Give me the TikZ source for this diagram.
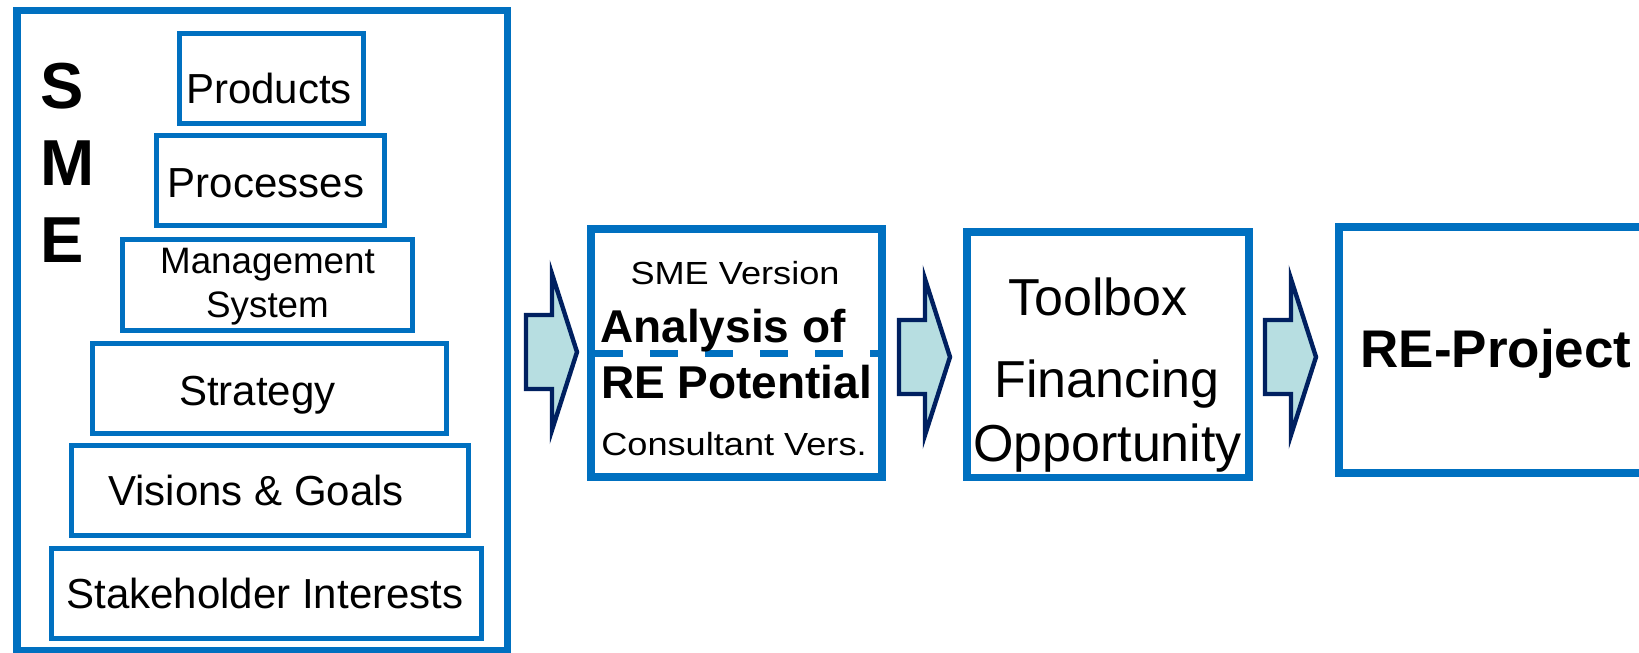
\documentclass[tikz,border=0pt]{standalone}
\usepackage{fontspec}
\setmainfont{Liberation Sans}
\newfontfamily\widesans[FakeStretch=1.13]{Liberation Sans}
\definecolor{boxblue}{HTML}{0070C0}
\definecolor{arrownavy}{HTML}{002060}
\definecolor{arrowfill}{HTML}{B7DEE1}

\begin{document}
\begin{tikzpicture}[x=0.5pt, y=-0.5pt,
  smebox/.style={draw=boxblue, line width=2.5pt},
  stepbox/.style={draw=boxblue, line width=3.8pt},
  lbl/.style={inner sep=0pt, anchor=base, font=\fontsize{21pt}{25pt}\selectfont},
  biglbl/.style={inner sep=0pt, anchor=base, font=\fontsize{26pt}{31pt}\selectfont},
  smalllbl/.style={inner sep=0pt, anchor=base, font=\fontsize{16pt}{19pt}\widesans},
  flowarrow/.style={draw=arrownavy, fill=arrowfill, line width=2.2pt, line join=miter}]
\useasboundingbox (0,0) rectangle (1639,653);
\clip (0,0) rectangle (1639,653);

  % SME stack
  \draw[stepbox] (17,10.5) rectangle (507.5,651);
  \node[inner sep=0pt, anchor=base west, align=left,
        font=\fontsize{32.5pt}{38.5pt}\selectfont\bfseries] (sme) at (40,262) {S\\M\\E};

  \draw[smebox] (179.5,33) rectangle (363.5,123.5);
  \node[lbl] (products) at (269,103) {Products};
  \draw[smebox] (156,135.5) rectangle (384.5,225.5);
  \node[lbl] (processes) at (266,197) {Processes};
  \draw[smebox] (122.5,239.5) rectangle (412.5,330.5);
  \node[lbl, align=center, font=\fontsize{18.4pt}{22pt}\selectfont] (mgmt) at (267.5,317)
        {Management\\System};
  \draw[smebox] (92.5,343.5) rectangle (446.5,433.5);
  \node[lbl] (strategy) at (257.5,405) {Strategy};
  \draw[smebox] (71.5,445.5) rectangle (468.5,535.5);
  \node[lbl] (visions) at (256,505) {Visions \& Goals};
  \draw[smebox] (51.5,548.5) rectangle (481.5,638.5);
  \node[lbl] (stake) at (265,608) {Stakeholder Interests};

  % analysis
  \draw[stepbox] (591,229) rectangle (882,477);
  \draw[boxblue, line width=3.5pt, dash pattern=on 14pt off 13.5pt] (595,353) -- (878,353);
  \node[smalllbl] (smever) at (735,284) {SME Version};
  \node[lbl, font=\fontsize{23pt}{27pt}\selectfont\bfseries] (analysis) at (723,342) {Analysis of};
  \node[lbl, font=\fontsize{23pt}{27pt}\selectfont\bfseries] (potential) at (736.5,398) {RE Potential};
  \node[smalllbl] (consver) at (734,455) {Consultant Vers.};

  % toolbox
  \draw[stepbox] (967,232) rectangle (1249,477.5);
  \node[biglbl] (toolbox) at (1098,315) {Toolbox};
  \node[biglbl] (financing) at (1107,397) {Financing};
  \node[biglbl] (opport) at (1107.5,461) {Opportunity};

  % project
  \draw[stepbox] (1339,227) rectangle (1660,473);
  \node[biglbl, font=\fontsize{26.5pt}{31pt}\selectfont\bfseries] (project) at (1496,367) {RE-Project};

  % block arrows
  \foreach \tx/\ty in {577/352, 950/357, 1316/357}
    \draw[flowarrow] (\tx-51,\ty-37) -- (\tx-25,\ty-37) -- (\tx-25,\ty-78) -- (\tx,\ty)
      -- (\tx-25,\ty+78) -- (\tx-25,\ty+37) -- (\tx-51,\ty+37) -- cycle;
\end{tikzpicture}
\end{document}
